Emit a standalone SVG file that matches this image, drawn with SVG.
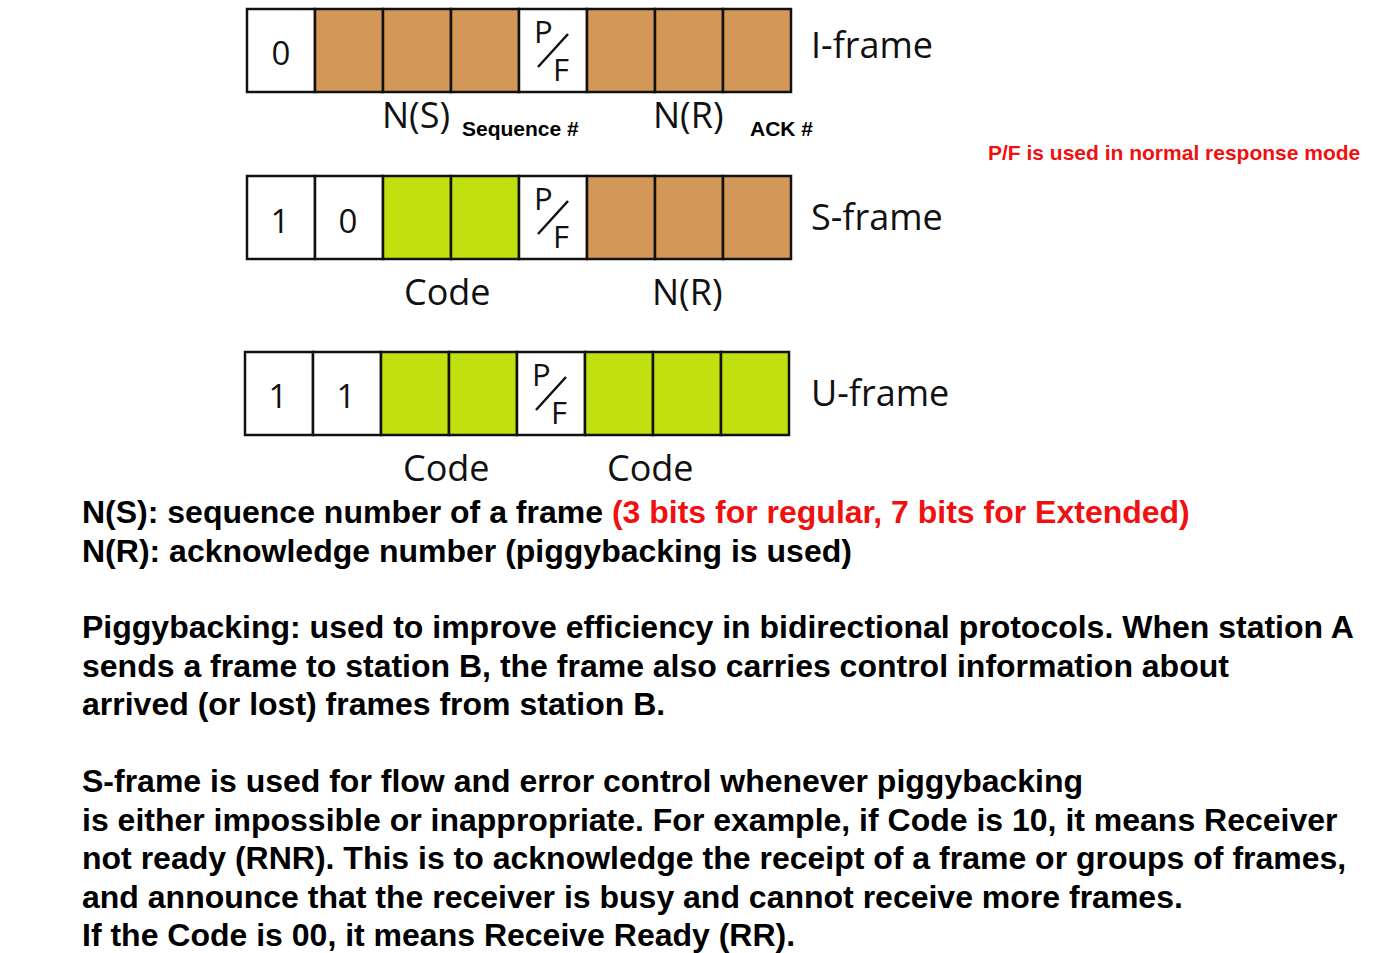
<svg xmlns="http://www.w3.org/2000/svg" width="1379" height="953" viewBox="0 0 1379 953">
<style>
.cell{stroke:#111;stroke-width:2.5}
.w{fill:#fff}.b{fill:#D39858}.g{fill:#C0E010}
.lab{font-family:"Open Sans","Noto Sans",sans-serif;font-size:36px;fill:#111}
.dig{font-family:"Open Sans","Noto Sans",sans-serif;font-size:33px;fill:#111;text-anchor:middle}
.pf{font-family:"Open Sans","Noto Sans",sans-serif;fill:#111;font-size:31px}
.small{font-family:"Liberation Sans",Arial,sans-serif;font-weight:bold;font-size:21px;fill:#000}
.body{font-family:"Liberation Sans",Arial,sans-serif;font-weight:bold;font-size:32px;fill:#000}
.red{fill:#F01010}
.sl{stroke:#111;stroke-width:2.5}
</style>
<rect width="1379" height="953" fill="#fff"/>
<g id="iframe">
<rect class="cell w" x="247" y="9" width="68" height="83"/>
<rect class="cell b" x="315" y="9" width="68" height="83"/>
<rect class="cell b" x="383" y="9" width="68" height="83"/>
<rect class="cell b" x="451" y="9" width="68" height="83"/>
<rect class="cell w" x="519" y="9" width="68" height="83"/>
<rect class="cell b" x="587" y="9" width="68" height="83"/>
<rect class="cell b" x="655" y="9" width="68" height="83"/>
<rect class="cell b" x="723" y="9" width="68" height="83"/>
<text class="dig" x="281" y="65">0</text>
<text class="pf" x="534" y="43">P</text>
<line class="sl" x1="568" y1="34" x2="538" y2="67"/>
<text class="pf" x="553" y="81">F</text>
<text class="lab" x="811" y="58">I-frame</text>
<text class="lab" x="382" y="128">N(S)</text>
<text class="small" x="462" y="136">Sequence #</text>
<text class="lab" x="653" y="128">N(R)</text>
<text class="small" x="750" y="136">ACK #</text>
</g>
<g id="note">
<text class="small red" x="988" y="160">P/F is used in normal response mode</text>
</g>
<g id="sframe">
<rect class="cell w" x="247" y="176" width="68" height="83"/>
<rect class="cell w" x="315" y="176" width="68" height="83"/>
<rect class="cell g" x="383" y="176" width="68" height="83"/>
<rect class="cell g" x="451" y="176" width="68" height="83"/>
<rect class="cell w" x="519" y="176" width="68" height="83"/>
<rect class="cell b" x="587" y="176" width="68" height="83"/>
<rect class="cell b" x="655" y="176" width="68" height="83"/>
<rect class="cell b" x="723" y="176" width="68" height="83"/>
<text class="dig" x="280" y="233">1</text>
<text class="dig" x="348" y="233">0</text>
<text class="pf" x="534" y="210">P</text>
<line class="sl" x1="568" y1="201" x2="538" y2="234"/>
<text class="pf" x="553" y="248">F</text>
<text class="lab" x="811" y="230">S-frame</text>
<text class="lab" x="404" y="305">Code</text>
<text class="lab" x="652" y="305">N(R)</text>
</g>
<g id="uframe">
<rect class="cell w" x="245" y="352" width="68" height="83"/>
<rect class="cell w" x="313" y="352" width="68" height="83"/>
<rect class="cell g" x="381" y="352" width="68" height="83"/>
<rect class="cell g" x="449" y="352" width="68" height="83"/>
<rect class="cell w" x="517" y="352" width="68" height="83"/>
<rect class="cell g" x="585" y="352" width="68" height="83"/>
<rect class="cell g" x="653" y="352" width="68" height="83"/>
<rect class="cell g" x="721" y="352" width="68" height="83"/>
<text class="dig" x="278" y="408">1</text>
<text class="dig" x="346" y="408">1</text>
<text class="pf" x="532" y="386">P</text>
<line class="sl" x1="566" y1="377" x2="536" y2="410"/>
<text class="pf" x="551" y="424">F</text>
<text class="lab" x="811" y="406">U-frame</text>
<text class="lab" x="403" y="481">Code</text>
<text class="lab" x="607" y="481">Code</text>
</g>
<g id="description">
<text class="body" x="82" y="523">N(S): sequence number of a frame <tspan class="red">(3 bits for regular, 7 bits for Extended)</tspan></text>
<text class="body" x="82" y="562">N(R): acknowledge number (piggybacking is used)</text>
<text class="body" x="82" y="638">Piggybacking: used to improve efficiency in bidirectional protocols. When station A</text>
<text class="body" x="82" y="677">sends a frame to station B, the frame also carries control information about</text>
<text class="body" x="82" y="715">arrived (or lost) frames from station B.</text>
<text class="body" x="82" y="792">S-frame is used for flow and error control whenever piggybacking</text>
<text class="body" x="82" y="831">is either impossible or inappropriate. For example, if Code is 10, it means Receiver</text>
<text class="body" x="82" y="869">not ready (RNR). This is to acknowledge the receipt of a frame or groups of frames,</text>
<text class="body" x="82" y="908">and announce that the receiver is busy and cannot receive more frames.</text>
<text class="body" x="82" y="946">If the Code is 00, it means Receive Ready (RR).</text>
</g>
</svg>
